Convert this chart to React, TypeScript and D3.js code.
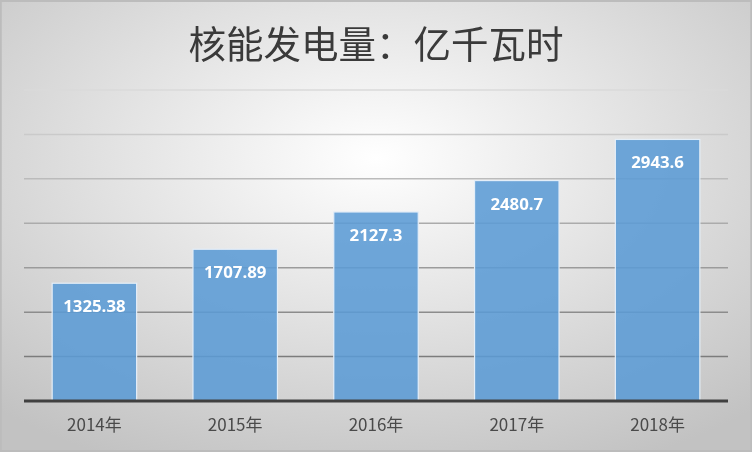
import React, { useEffect, useRef } from 'react';
import * as d3 from 'd3';

const years = ['2014年', '2015年', '2016年', '2017年', '2018年'];
const output = [1325.38, 1707.89, 2127.3, 2480.7, 2943.6];
const gridTicks = [500, 1000, 1500, 2000, 2500, 3000, 3500];
const titleText = '核能发电量：亿千瓦时';

const W = 752;
const H = 452;

export default function App() {
  const svgRef = useRef<SVGSVGElement>(null);

  useEffect(() => {
    if (!svgRef.current) return;
    const svg = d3.select(svgRef.current);
    svg.selectAll('*').remove();

    const margin = { left: 24, right: 24, top: 90, bottom: 51 };

    // background gradient
    const defs = svg.append('defs');
    const bg = defs.append('radialGradient')
      .attr('id', 'bg')
      .attr('cx', '50%').attr('cy', '35%').attr('r', '75%');
    bg.append('stop').attr('offset', '0%').attr('stop-color', '#ffffff');
    bg.append('stop').attr('offset', '100%').attr('stop-color', '#c2c2c2');

    svg.append('rect')
      .attr('width', W).attr('height', H)
      .attr('fill', 'url(#bg)');
    svg.append('rect')
      .attr('x', 0.75).attr('y', 1).attr('width', W - 1.5).attr('height', H - 2)
      .attr('fill', 'none').attr('stroke', '#bcbcbc').attr('stroke-width', 2);

    const x = d3.scaleBand<string>()
      .domain(years)
      .range([margin.left, W - margin.right])
      .paddingInner(0.4)
      .paddingOuter(0.2);

    const y = d3.scaleLinear()
      .domain([0, 3500])
      .range([H - margin.bottom, margin.top]);

    // gridlines, darker toward the bottom
    const gridColor = d3.scaleLinear<string>()
      .domain([500, 3500])
      .range(['#7c7c7c', '#dadada']);

    svg.append('g')
      .selectAll('line')
      .data(gridTicks)
      .join('line')
      .attr('x1', margin.left).attr('x2', W - margin.right)
      .attr('y1', d => y(d)).attr('y2', d => y(d))
      .attr('stroke', d => gridColor(d))
      .attr('stroke-width', 1.5);

    // bars
    svg.append('g')
      .selectAll('rect')
      .data(output)
      .join('rect')
      .attr('x', (_, i) => x(years[i])!)
      .attr('y', d => y(d))
      .attr('width', x.bandwidth())
      .attr('height', d => y(0) - y(d))
      .attr('fill', 'rgb(91,155,213)')
      .attr('fill-opacity', 0.88)
      .attr('stroke', '#e4eef8')
      .attr('stroke-width', 1.2);

    // value labels
    svg.append('g')
      .selectAll('text')
      .data(output)
      .join('text')
      .attr('x', (_, i) => x(years[i])! + x.bandwidth() / 2)
      .attr('y', d => y(d) + 29)
      .attr('text-anchor', 'middle')
      .attr('fill', '#ffffff')
      .attr('font-family', '"Open Sans", "Liberation Sans", sans-serif')
      .attr('font-weight', 'bold')
      .attr('font-size', 16.8)
      .text(d => String(d));

    // baseline
    svg.append('line')
      .attr('x1', margin.left).attr('x2', W - margin.right)
      .attr('y1', y(0)).attr('y2', y(0))
      .attr('stroke', '#404040')
      .attr('stroke-width', 3);

    // category labels
    svg.append('g')
      .selectAll('text')
      .data(years)
      .join('text')
      .attr('x', d => x(d)! + x.bandwidth() / 2)
      .attr('y', 431)
      .attr('text-anchor', 'middle')
      .attr('fill', '#4a4a4a')
      .attr('font-family', '"Noto Sans CJK SC", "Open Sans", sans-serif')
      .attr('font-size', 17)
      .text(d => d);

    // title
    svg.append('text')
      .attr('x', W / 2)
      .attr('y', 58)
      .attr('text-anchor', 'middle')
      .attr('fill', '#3a3a3a')
      .attr('font-family', '"Noto Sans CJK SC", sans-serif')
      .attr('font-size', 37.5)
      .text(titleText);
  }, []);

  return (
    <div style={{ position: 'fixed', left: 0, top: 0 }}>
      <svg ref={svgRef} width={W} height={H} style={{ display: 'block' }} />
    </div>
  );
}
